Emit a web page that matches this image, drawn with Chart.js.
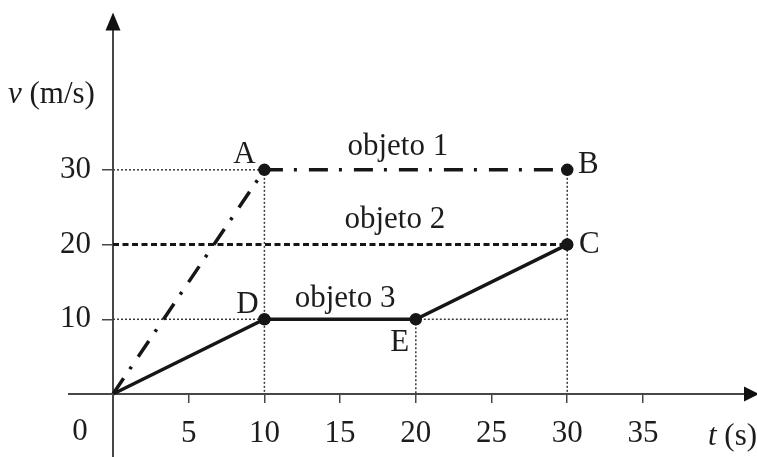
<!DOCTYPE html>
<html>
<head>
<meta charset="utf-8">
<script src="https://cdn.jsdelivr.net/npm/chart.js@4.4.1/dist/chart.umd.min.js"></script>
<style>
  body { margin: 0; background: #fff; }
  #wrap { width: 757px; height: 457px; }
</style>
</head>
<body>
<div id="wrap"><canvas id="grafico" width="757" height="457"></canvas></div>
<script>
const tempo1 = [0, 10, 30];
const vel1 = [0, 30, 30];
const tempo2 = [0, 30];
const vel2 = [20, 20];
const tempo3 = [0, 10, 20, 30];
const vel3 = [0, 10, 10, 20];

// linhas pontilhadas de referência (t, v) -> (t, v)
const guiaT = [[0, 10], [10, 10], [0, 10], [20, 30], [20, 20], [30, 30]];
const guiaV = [[30, 30], [30, 0], [10, 10], [10, 10], [10, 0], [30, 0]];

const ticksT = [5, 10, 15, 20, 25, 30, 35];
const ticksV = [10, 20, 30];

const fonte = "'Liberation Serif', 'Times New Roman', serif";
const preto = "#161616";
const eixoCor = "#474747";

function pontos(ts, vs) {
    return ts.map((t, i) => ({ x: t, y: vs[i] }));
}

const datasets = [
    {
        data: pontos(tempo1, vel1),
        borderColor: preto, backgroundColor: preto,
        borderWidth: 3.5, borderDash: [19, 11, 3, 12],
        pointRadius: [0, 4.5, 4.5], order: 1
    },
    {
        data: pontos(tempo2, vel2),
        borderColor: preto, backgroundColor: preto,
        borderWidth: 3, borderDash: [6, 3.5],
        pointRadius: [0, 4.5], order: 1
    },
    {
        data: pontos(tempo3, vel3),
        borderColor: preto, backgroundColor: preto,
        borderWidth: 3.5,
        pointRadius: [0, 4.5, 4.5, 4.5], order: 1
    }
];
guiaT.forEach((ts, i) => {
    datasets.push({
        data: pontos(ts, guiaV[i]),
        borderColor: "#3a3a3a", borderWidth: 1.5, borderDash: [2, 2],
        pointRadius: 0, order: 2
    });
});

// rótulos ligados aos pontos do gráfico
const rotulos = [
    { txt: "A", t: tempo1[1], v: vel1[1], dx: -20, dy: -7 },
    { txt: "B", t: tempo1[2], v: vel1[2], dx: 21, dy: 3 },
    { txt: "C", t: tempo3[3], v: vel3[3], dx: 22, dy: 8 },
    { txt: "D", t: tempo3[1], v: vel3[1], dx: -17, dy: -6 },
    { txt: "E", t: tempo3[2], v: vel3[2], dx: -16, dy: 32 },
    { txt: "objeto 1", t: 20, v: vel1[2], dx: -18, dy: -15 },
    { txt: "objeto 2", t: 20, v: vel2[0], dx: -21, dy: -17 },
    { txt: "objeto 3", t: 15, v: vel3[1], dx: 5, dy: -12 },
    { txt: "0", t: 0, v: 0, dx: -33, dy: 46 }
];

const extras = {
    id: "extras",
    beforeDraw(chart) {
        const c = chart.ctx;
        c.save();
        c.fillStyle = "#fff";
        c.fillRect(0, 0, chart.width, chart.height);
        c.restore();
    },
    afterDraw(chart) {
        const c = chart.ctx;
        const sx = chart.scales.x, sy = chart.scales.y;
        const area = chart.chartArea;
        const x0 = sx.getPixelForValue(0), y0 = sy.getPixelForValue(0);
        c.save();
        // prolongamento dos eixos além da origem
        c.strokeStyle = eixoCor;
        c.lineWidth = 2;
        c.beginPath();
        c.moveTo(x0 - 45, y0);
        c.lineTo(x0, y0);
        c.moveTo(x0, y0);
        c.lineTo(x0, chart.height);
        c.stroke();

        // setas dos eixos
        c.fillStyle = "#111";
        c.beginPath();
        c.moveTo(x0, area.top - 17);
        c.lineTo(x0 - 7.5, area.top + 1);
        c.lineTo(x0 + 7.5, area.top + 1);
        c.closePath();
        c.fill();
        c.beginPath();
        c.moveTo(area.right + 14, y0);
        c.lineTo(area.right - 1, y0 - 7.5);
        c.lineTo(area.right - 1, y0 + 7.5);
        c.closePath();
        c.fill();

        c.fillStyle = "#1c1c1c";
        c.textAlign = "center";
        c.textBaseline = "alphabetic";
        c.font = "31px " + fonte;
        rotulos.forEach(r => {
            c.fillText(r.txt, sx.getPixelForValue(r.t) + r.dx, sy.getPixelForValue(r.v) + r.dy);
        });

        // títulos dos eixos
        c.textAlign = "left";
        c.font = "italic 31px " + fonte;
        c.fillText("v", x0 - 105, area.top + 73);
        let w = c.measureText("v ").width;
        c.font = "31px " + fonte;
        c.fillText("(m/s)", x0 - 105 + w, area.top + 73);

        c.font = "italic 31px " + fonte;
        c.fillText("t", area.right - 37, y0 + 51);
        w = c.measureText("t ").width;
        c.font = "31px " + fonte;
        c.fillText("(s)", area.right - 37 + w, y0 + 51);
        c.restore();
    }
};

new Chart(document.getElementById("grafico"), {
    type: "scatter",
    data: { datasets: datasets },
    options: {
        responsive: false,
        animation: false,
        showLine: true,
        layout: { padding: { left: 0, right: 12, top: 25, bottom: 0 } },
        plugins: { legend: { display: false }, tooltip: { enabled: false } },
        datasets: { scatter: { clip: false } },
        scales: {
            x: {
                type: "linear", min: 0, max: 41.74,
                position: "bottom",
                afterBuildTicks: s => { s.ticks = ticksT.map(v => ({ value: v })); },
                afterFit: s => { s.height = 63; },
                grid: { drawOnChartArea: false, drawTicks: true, tickLength: 9, color: eixoCor, lineWidth: 1.5 },
                border: { display: true, color: eixoCor, width: 2 },
                ticks: { color: "#1c1c1c", font: { family: fonte, size: 31 }, padding: 12, maxRotation: 0, autoSkip: false }
            },
            y: {
                type: "linear", min: 0, max: 48.77,
                position: "left",
                afterBuildTicks: s => { s.ticks = ticksV.map(v => ({ value: v })); },
                afterFit: s => { s.width = 113; },
                grid: { drawOnChartArea: false, drawTicks: true, tickLength: 11, color: eixoCor, lineWidth: 1.5 },
                border: { display: true, color: eixoCor, width: 2 },
                ticks: { color: "#1c1c1c", font: { family: fonte, size: 31 }, padding: 11, autoSkip: false }
            }
        }
    },
    plugins: [extras]
});
</script>
</body>
</html>
